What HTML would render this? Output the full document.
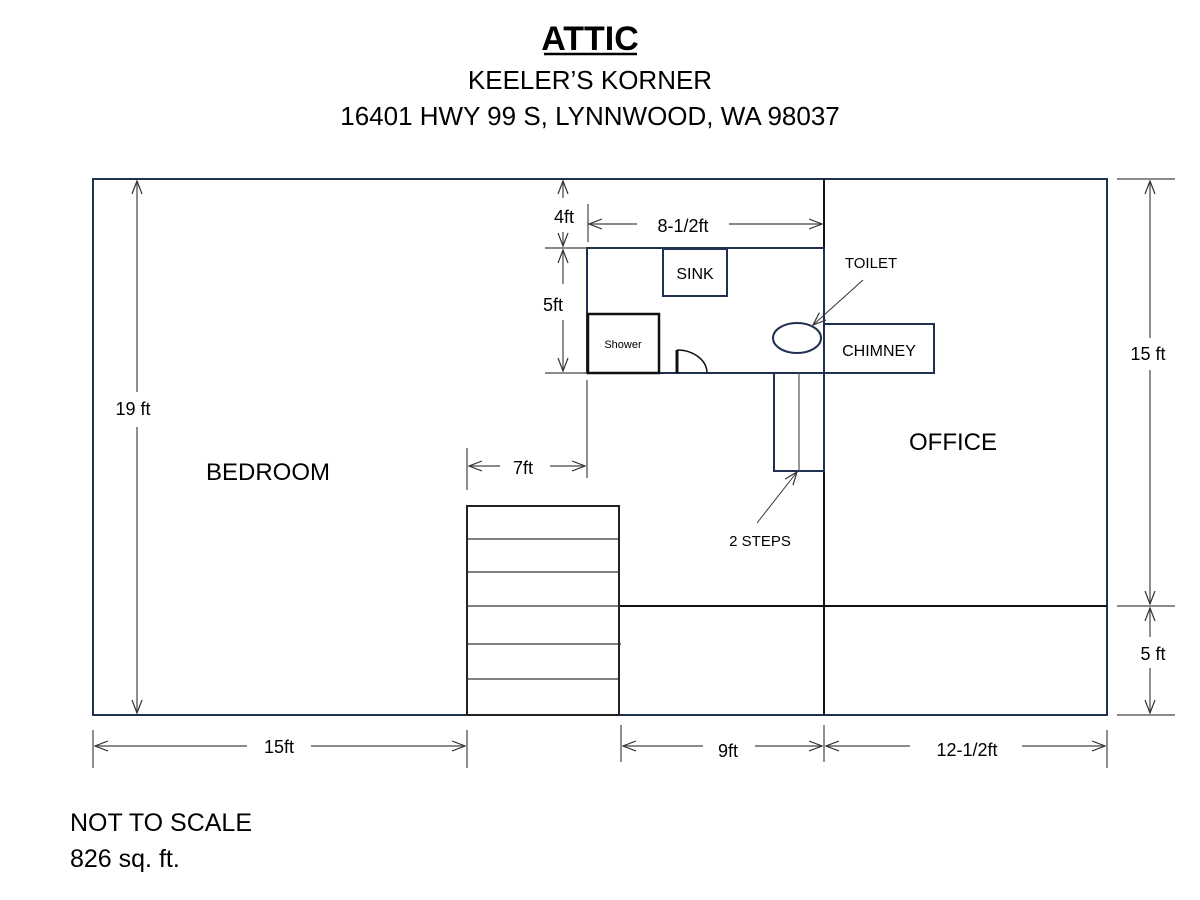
<!DOCTYPE html>
<html><head><meta charset="utf-8"><style>
html,body{margin:0;padding:0;background:#fff;}
svg{display:block;font-family:"Liberation Sans",Carlito,sans-serif;}
</style></head><body>
<svg width="1200" height="900" viewBox="0 0 1200 900" xmlns="http://www.w3.org/2000/svg">
<defs>
<marker id="a" viewBox="0 0 14 12" refX="13" refY="6" markerWidth="14" markerHeight="12" markerUnits="userSpaceOnUse" orient="auto-start-reverse">
<path d="M0,1 L13,6 L0,11" fill="none" stroke="#333" stroke-width="1.2"/>
</marker>
</defs>
<rect width="1200" height="900" fill="#fff"/>
<!-- titles -->
<text x="590" y="50" font-size="34" font-weight="bold" text-anchor="middle" fill="#000">ATTIC</text>
<line x1="544" y1="54" x2="637" y2="54" stroke="#000" stroke-width="2.5"/>
<text x="590" y="89" font-size="26" text-anchor="middle" fill="#000">KEELER’S KORNER</text>
<text x="590" y="125" font-size="26" text-anchor="middle" fill="#000">16401 HWY 99 S, LYNNWOOD, WA 98037</text>

<!-- outer -->
<rect x="93" y="179" width="1014" height="536" fill="none" stroke="#1f3050" stroke-width="2"/>
<line x1="824" y1="179" x2="824" y2="715" stroke="#111" stroke-width="2"/>
<line x1="619" y1="606" x2="1107" y2="606" stroke="#111" stroke-width="2"/>

<!-- bathroom -->
<rect x="587" y="248" width="237" height="125" fill="none" stroke="#1f3050" stroke-width="2"/>
<rect x="663" y="249" width="64" height="47" fill="none" stroke="#1f3050" stroke-width="2"/>
<text x="695" y="279" font-size="16" text-anchor="middle">SINK</text>
<rect x="588" y="314" width="71" height="59" fill="none" stroke="#111" stroke-width="2.5"/>
<text x="623" y="348" font-size="11" text-anchor="middle">Shower</text>
<line x1="677" y1="350" x2="677" y2="373" stroke="#111" stroke-width="3"/>
<path d="M677,350 A30,23 0 0 1 707,373" fill="none" stroke="#111" stroke-width="1.5"/>
<ellipse cx="797" cy="338" rx="24" ry="15" fill="none" stroke="#1f3050" stroke-width="2"/>
<rect x="824" y="324" width="110" height="49" fill="none" stroke="#1f3050" stroke-width="2"/>
<text x="879" y="356" font-size="16" text-anchor="middle">CHIMNEY</text>
<text x="871" y="268" font-size="15" text-anchor="middle">TOILET</text>
<line x1="863" y1="280" x2="813" y2="325" stroke="#333" stroke-width="1" marker-end="url(#a)"/>

<!-- steps -->
<rect x="774" y="373" width="50" height="98" fill="none" stroke="#1f3050" stroke-width="2"/>
<line x1="799" y1="373" x2="799" y2="471" stroke="#555" stroke-width="1.2"/>
<line x1="757" y1="523" x2="797" y2="472" stroke="#333" stroke-width="1" marker-end="url(#a)"/>
<text x="760" y="546" font-size="15" text-anchor="middle">2 STEPS</text>

<!-- stairs -->
<rect x="467" y="506" width="152" height="209" fill="none" stroke="#222" stroke-width="2"/>
<g stroke="#333" stroke-width="1.3">
<line x1="467" y1="539" x2="619" y2="539"/>
<line x1="467" y1="572" x2="619" y2="572"/>
<line x1="467" y1="606" x2="619" y2="606"/>
<line x1="467" y1="644" x2="621" y2="644"/>
<line x1="467" y1="679" x2="619" y2="679"/>
</g>

<!-- room labels -->
<text x="268" y="480" font-size="24" text-anchor="middle">BEDROOM</text>
<text x="953" y="450" font-size="24" text-anchor="middle">OFFICE</text>

<!-- dimensions -->
<g stroke="#444" stroke-width="1.2" fill="none">
<!-- left 19ft -->
<line x1="137" y1="181" x2="137" y2="392" marker-start="url(#a)"/>
<line x1="137" y1="427" x2="137" y2="713" marker-end="url(#a)"/>
<!-- right -->
<line x1="1117" y1="179" x2="1175" y2="179"/>
<line x1="1117" y1="606" x2="1175" y2="606"/>
<line x1="1117" y1="715" x2="1175" y2="715"/>
<line x1="1150" y1="181" x2="1150" y2="338" marker-start="url(#a)"/>
<line x1="1150" y1="370" x2="1150" y2="604" marker-end="url(#a)"/>
<line x1="1150" y1="608" x2="1150" y2="637" marker-start="url(#a)"/>
<line x1="1150" y1="668" x2="1150" y2="713" marker-end="url(#a)"/>
<!-- bottom -->
<line x1="93" y1="730" x2="93" y2="768"/>
<line x1="467" y1="730" x2="467" y2="768"/>
<line x1="621" y1="725" x2="621" y2="762"/>
<line x1="824" y1="725" x2="824" y2="762"/>
<line x1="1107" y1="730" x2="1107" y2="768"/>
<line x1="95" y1="746" x2="247" y2="746" marker-start="url(#a)"/>
<line x1="311" y1="746" x2="465" y2="746" marker-end="url(#a)"/>
<line x1="623" y1="746" x2="703" y2="746" marker-start="url(#a)"/>
<line x1="755" y1="746" x2="822" y2="746" marker-end="url(#a)"/>
<line x1="826" y1="746" x2="910" y2="746" marker-start="url(#a)"/>
<line x1="1022" y1="746" x2="1105" y2="746" marker-end="url(#a)"/>
<!-- 4ft / 5ft -->
<line x1="563" y1="181" x2="563" y2="198" marker-start="url(#a)"/>
<line x1="563" y1="232" x2="563" y2="246" marker-end="url(#a)"/>
<line x1="545" y1="248" x2="587" y2="248"/>
<line x1="563" y1="250" x2="563" y2="284" marker-start="url(#a)"/>
<line x1="563" y1="320" x2="563" y2="371" marker-end="url(#a)"/>
<line x1="545" y1="373" x2="587" y2="373"/>
<!-- 8-1/2 -->
<line x1="588" y1="204" x2="588" y2="242"/>
<line x1="589" y1="224" x2="637" y2="224" marker-start="url(#a)"/>
<line x1="729" y1="224" x2="822" y2="224" marker-end="url(#a)"/>
<!-- 7ft -->
<line x1="467" y1="448" x2="467" y2="490"/>
<line x1="587" y1="380" x2="587" y2="478"/>
<line x1="469" y1="466" x2="500" y2="466" marker-start="url(#a)"/>
<line x1="550" y1="466" x2="585" y2="466" marker-end="url(#a)"/>
</g>
<g font-size="18" fill="#000" text-anchor="middle">
<text x="133" y="415">19 ft</text>
<text x="1148" y="360">15 ft</text>
<text x="1153" y="660">5 ft</text>
<text x="279" y="753">15ft</text>
<text x="728" y="757">9ft</text>
<text x="967" y="756">12-1/2ft</text>
<text x="564" y="223">4ft</text>
<text x="553" y="311">5ft</text>
<text x="683" y="232">8-1/2ft</text>
<text x="523" y="474">7ft</text>
</g>

<text x="70" y="831" font-size="25">NOT TO SCALE</text>
<text x="70" y="867" font-size="25">826 sq. ft.</text>
</svg>
</body></html>
